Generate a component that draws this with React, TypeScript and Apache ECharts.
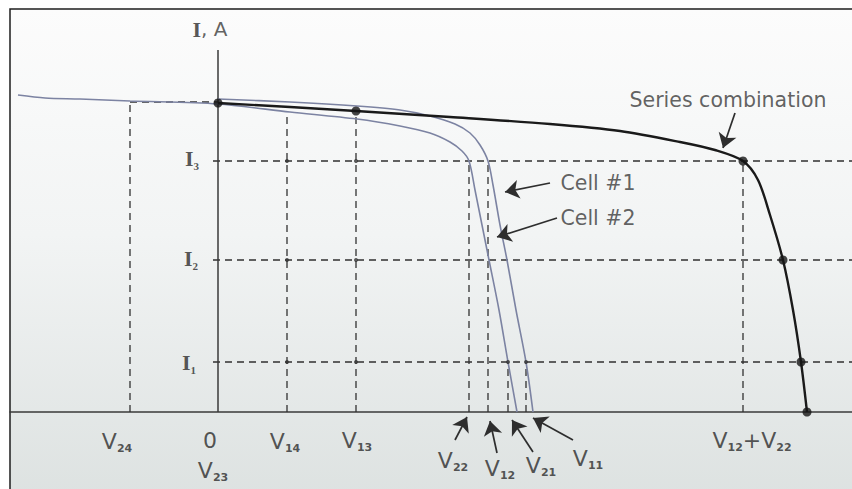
import React, { useEffect, useRef } from "react";
import * as echarts from "echarts";

// Current levels (A, schematic)
const I1 = 5.0;
const I2 = 15.2;
const I3 = 25.1;
const I4 = 31.0;

// Voltage marks (V, schematic)
const V24 = -8.8;
const V14 = 6.9;
const V13 = 13.8;
const V22 = 25.1;
const V12 = 27.0;
const V21 = 29.0;
const V11 = 30.8;
const V12V22 = 52.5;

// I-V curves [V, I]
const cell1: [number, number][] = [
  [0, 31.3], [7.2, 31.0], [13.9, 30.6], [18.2, 30.2], [21.2, 29.6], [23.7, 28.8],
  [25.2, 27.9], [26.2, 26.7], [27.0, 25.1], [27.5, 22.7], [28.2, 18.7], [28.9, 15.2],
  [29.8, 10.2], [30.8, 5.0], [31.5, 0],
];
const cell2: [number, number][] = [
  [-20.0, 31.7], [-17.3, 31.4], [-13.8, 31.3], [-8.8, 31.1], [0, 30.8], [7.2, 30.0],
  [13.9, 29.3], [18.2, 28.6], [21.2, 27.9], [23.2, 27.0], [24.4, 26.1], [25.1, 25.1],
  [25.7, 22.2], [26.4, 18.7], [27.1, 15.2], [28.1, 10.2], [29.0, 5.0], [29.9, 0],
];
const seriesCombination: [number, number][] = [
  [0, 30.9], [7.2, 30.5], [13.8, 30.1], [23.2, 29.5], [33.2, 28.8], [40.2, 28.1],
  [46.2, 27.0], [49.7, 26.2], [52.5, 25.1], [54.0, 23.2], [55.2, 19.7], [56.5, 15.2],
  [57.5, 10.2], [58.3, 5.0], [58.9, 0],
];
const seriesDots: [number, number][] = [
  [0, 30.9], [13.8, 30.1], [52.5, 25.1], [56.5, 15.2], [58.3, 5.0], [58.9, 0],
];
const gridDots: [number, number][] = [
  [V14, I3], [V13, I3], [V14, I2], [V13, I2], [V14, I1], [V13, I1], [V21, I1], [V11, I1],
];

// Dashed guides
const verticalGuides: [number, number][] = [
  [V24, I4], [V14, 30.0], [V13, 30.1], [V22, I3], [V12, I3], [V21, I1], [V11, I1], [V12V22, I3],
];
const horizontalGuides: [number, number, number][] = [
  [V24, 0, I4], [-0.5, 63.4, I3], [-0.5, 63.4, I2], [-0.5, 63.4, I1],
];
const yAxisTop = 36.2;

// Texts: [rich text, V, I anchor]
const annotations: [string, number, number][] = [
  ["{v|V}{s|24}", -10.1, -2.9],
  ["{v|0}", -0.8, -2.8],
  ["{v|V}{s|23}", -0.5, -5.8],
  ["{v|V}{s|14}", 6.7, -2.9],
  ["{v|V}{s|13}", 13.9, -2.8],
  ["{v|V}{s|22}", 23.5, -4.8],
  ["{v|V}{s|12}", 28.2, -5.6],
  ["{v|V}{s|21}", 32.3, -5.3],
  ["{v|V}{s|11}", 37.0, -4.6],
  ["{v|V}{s|12}{v|+V}{s|22}", 53.4, -2.8],
  ["{b|I}{bs|3}", -2.6, I3 + 0.3],
  ["{b|I}{bs|2}", -2.7, I2 + 0.2],
  ["{b|I}{bs|1}", -2.9, I1 + 0.0],
  ["{b|I}{n|, A}", -0.8, 38.3],
  ["{t|Series combination}", 51.0, 31.2],
  ["{t|Cell #1}", 38.0, 22.9],
  ["{t|Cell #2}", 38.0, 19.4],
];

const arrows: [number, number][][] = [
  [[23.7, -2.8], [24.9, -0.5]],
  [[27.9, -4.1], [27.2, -0.9]],
  [[31.5, -4.0], [29.4, -0.8]],
  [[35.5, -2.8], [31.5, -0.6]],
  [[51.7, 29.9], [50.5, 26.4]],
  [[33.2, 22.9], [28.7, 22.0]],
  [[33.9, 19.4], [27.9, 17.5]],
];

const INK = "#2b2b2b";
const CELL = "#7c83a2";
const SANS = "DejaVu Sans";
const SERIF = "Liberation Serif";

export default function App() {
  const ref = useRef<HTMLDivElement>(null);
  useEffect(() => {
    if (!ref.current) return;
    const chart = echarts.init(ref.current, undefined, { renderer: "svg" });
    const dashed = { color: "#303030", width: 1.3, type: [7, 5] as number[] };
    const guideSeries: any[] = [];
    verticalGuides.forEach(([v, top]) => {
      guideSeries.push({
        type: "line", data: [[v, 0], [v, top]], symbol: "none", silent: true,
        lineStyle: dashed, z: 1,
      });
    });
    horizontalGuides.forEach(([a, b, i]) => {
      guideSeries.push({
        type: "line", data: [[a, i], [b, i]], symbol: "none", silent: true,
        lineStyle: dashed, z: 1,
      });
    });
    const rich = {
      v: { fontFamily: SANS, fontSize: 22, color: INK, lineHeight: 26 },
      s: { fontFamily: SANS, fontSize: 11, fontWeight: "bold", color: INK, lineHeight: 12, verticalAlign: "bottom" },
      b: { fontFamily: SERIF, fontSize: 22, fontWeight: "bold", color: INK, lineHeight: 26 },
      bs: { fontFamily: SERIF, fontSize: 11, fontWeight: "bold", color: INK, lineHeight: 12, verticalAlign: "bottom" },
      n: { fontFamily: SANS, fontSize: 20, color: "#3a3a3a", lineHeight: 26 },
      t: { fontFamily: SANS, fontSize: 20.5, color: "#3a3a3a", lineHeight: 26 },
    };
    chart.setOption({
      animation: false,
      backgroundColor: "#ffffff",
      graphic: [
        {
          type: "rect", z: -100, silent: true,
          shape: { x: 10, y: 9, width: 860, height: 500 },
          style: {
            stroke: "#1e1e1e", lineWidth: 1.5,
            fill: {
              type: "linear", x: 0, y: 0, x2: 0, y2: 1,
              colorStops: [
                { offset: 0, color: "#fcfcfc" },
                { offset: 0.45, color: "#f2f4f4" },
                { offset: 1, color: "#dce1e0" },
              ],
            },
          },
        },
      ],
      grid: { left: 10, right: 0, top: 12, bottom: 77 },
      xAxis: {
        type: "value", min: -20.8, max: 63.4,
        axisLine: { show: true, onZero: true, lineStyle: { color: "#3a3a3a", width: 1.6 } },
        axisTick: { show: false }, axisLabel: { show: false }, splitLine: { show: false },
      },
      yAxis: { type: "value", min: 0, max: 40, show: false },
      series: [
        ...guideSeries,
        {
          type: "line", data: [[0, 0], [0, yAxisTop]], symbol: "none", silent: true,
          lineStyle: { color: "#3a3a3a", width: 1.5 }, z: 2,
        },
        {
          name: "Cell #1", type: "line", data: cell1, symbol: "none", smooth: 0.3, silent: true,
          lineStyle: { color: CELL, width: 1.6 }, z: 3,
        },
        {
          name: "Cell #2", type: "line", data: cell2, symbol: "none", smooth: 0.3, silent: true,
          lineStyle: { color: CELL, width: 1.6 }, z: 3,
        },
        {
          name: "Series combination", type: "line", data: seriesCombination, symbol: "none",
          smooth: 0.3, silent: true, lineStyle: { color: "#1a1a1a", width: 2.4 }, z: 4,
        },
        {
          type: "scatter", data: seriesDots, symbolSize: 9, silent: true, clip: false,
          itemStyle: { color: "#151515" }, z: 5,
        },
        {
          type: "scatter", data: gridDots, symbolSize: 4, silent: true,
          itemStyle: { color: "#333333" }, z: 5,
        },
        {
          type: "lines", coordinateSystem: "cartesian2d", silent: true, clip: false,
          symbol: ["none", "arrow"], symbolSize: 14,
          lineStyle: { color: "#2e2e2e", width: 1.7, opacity: 1, curveness: 0 },
          data: arrows.map((c) => ({ coords: c })), z: 6,
        },
        {
          type: "scatter", symbolSize: 0, silent: true, z: 7, clip: false,
          data: annotations.map(([t, x, y]) => ({ value: [x, y], label: { formatter: t } })),
          label: { show: true, position: "inside", rich },
        },
      ],
    });
    return () => chart.dispose();
  }, []);
  return (
    <div
      ref={ref}
      style={{ position: "fixed", left: 0, top: 0, width: 852, height: 489 }}
    />
  );
}
